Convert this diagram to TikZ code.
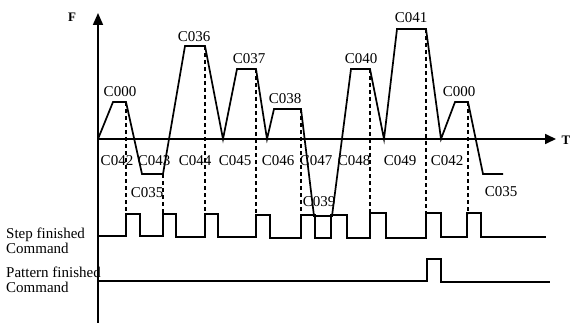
\documentclass[tikz,border=0pt]{standalone}
\usepackage{fontspec}
\setmainfont{Liberation Serif}
\usetikzlibrary{arrows.meta}
\begin{document}
\begin{tikzpicture}[x=1pt, y=-1pt,
                    lbl/.style={font=\fontsize{15}{15}\selectfont, inner sep=0pt},
                    wave/.style={line width=1.7pt},
                    guide/.style={line width=1.1pt, dash pattern=on 4pt off 3pt}]
    \useasboundingbox (0,0) rectangle (572,323);
    \coordinate (O) at (98,139);
    \coordinate (Ftop) at (98,13);
    \coordinate (Fbot) at (98,323);
    \coordinate (Tend) at (556,139);

    % axes
    \draw[line width=1.7pt, -{Triangle[width=10pt,length=12pt]}] (Fbot) -- (Ftop);
    \draw[line width=1.7pt, -{Triangle[width=10pt,length=11pt]}] (O) -- (Tend);
    \node[lbl, font=\fontsize{13}{13}\selectfont\bfseries] (F) at (72,17) {F};
    \node[lbl, font=\fontsize{13}{13}\selectfont\bfseries] (T) at (566,140) {T};

    % speed profile
    \draw[wave] (O) -- (113,102) -- (126,102) -- (142,174) -- (163,174) -- (185,46) -- (205,46)
        -- (223,139) -- (237,69) -- (256,69) -- (267,139) -- (274,109) -- (301,109) -- (314,216)
        -- (332,216) -- (351,69) -- (370,69) -- (384,139) -- (397,29) -- (426,29) -- (441,139)
        -- (455,102) -- (468,102) -- (483,174) -- (503,174);

    % guides down to the pulses
    \foreach \x/\y in {126/102, 163/174, 205/46, 256/69, 301/109, 370/69, 426/29, 468/102}
        \draw[guide] (\x,\y) -- (\x,214);

    % step finished command
    \draw[wave] (98,236) -- (126,236) -- (126,214) -- (140,214) -- (140,236) -- (163,236)
        -- (163,214) -- (176,214) -- (176,237) -- (205,237) -- (205,214) -- (218,214) -- (218,237)
        -- (256,237) -- (256,215) -- (270,215) -- (270,238) -- (301,238) -- (301,215) -- (315,215)
        -- (315,238) -- (331,238) -- (331,215) -- (347,215) -- (347,238) -- (370,238) -- (370,213)
        -- (386,213) -- (386,238) -- (426,238) -- (426,213) -- (441,213) -- (441,237) -- (467,237)
        -- (467,213) -- (481,213) -- (481,237) -- (546,237);

    % pattern finished command
    \draw[wave] (98,281) -- (427,281) -- (427,259) -- (441,259) -- (441,282) -- (550,282);

    % command labels
    \foreach \t/\x/\y [count=\i] in {C000/120/92, C036/194/37, C037/249/59, C038/285/99,
        C040/361/59, C041/411/18, C000/459/92, C042/117/161, C043/154/161, C044/195/161,
        C045/235/161, C046/278/161, C047/316/161, C048/354/161, C049/400/161, C042/447/161,
        C035/147/193, C039/319/202, C035/501/192}
        \node[lbl] (c\i) at (\x,\y) {\t};

    \node[lbl, align=left, anchor=north west] (step) at (6,228) {Step finished\\Command};
    \node[lbl, align=left, anchor=north west] (patt) at (6,267) {Pattern finished\\Command};
\end{tikzpicture}
\end{document}
